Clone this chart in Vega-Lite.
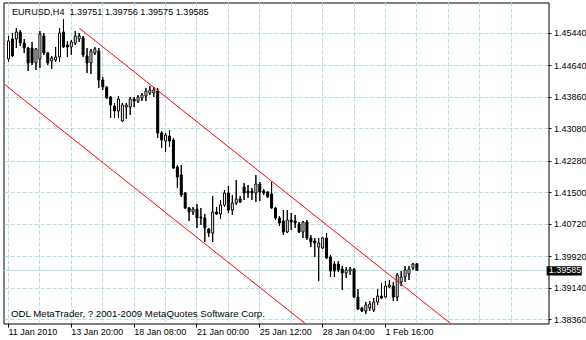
{
"$schema": "https://vega.github.io/schema/vega-lite/v6.json",
"width": 545, "height": 321,
"autosize": {"type": "none"},
"padding": {"left": 3.5, "top": 2.5, "right": 37.5, "bottom": 16.5},
"background": "white",
"config": {"view": {"stroke": "black", "strokeWidth": 1}, "font": "Liberation Sans",
"axis": {"labelOverlap": false, "labelFlush": false, "labelBound": false, "title": null, "domain": false, "translate": 0}},
"data": {"name": "candles"},
"datasets": {
"candles": [
{"t":0,"o":1.44806,"h":1.45374,"l":1.44732,"c":1.45250},
{"t":1,"o":1.45300,"h":1.45448,"l":1.44855,"c":1.44880},
{"t":2,"o":1.45300,"h":1.45571,"l":1.45077,"c":1.45473},
{"t":3,"o":1.45473,"h":1.45522,"l":1.45127,"c":1.45201},
{"t":4,"o":1.45201,"h":1.45300,"l":1.44954,"c":1.45077},
{"t":5,"o":1.45077,"h":1.45102,"l":1.44509,"c":1.44707},
{"t":6,"o":1.45077,"h":1.45226,"l":1.44658,"c":1.44707},
{"t":7,"o":1.44707,"h":1.45077,"l":1.44534,"c":1.45053},
{"t":8,"o":1.44806,"h":1.45497,"l":1.44583,"c":1.45423},
{"t":9,"o":1.45374,"h":1.45448,"l":1.44905,"c":1.44954},
{"t":10,"o":1.44954,"h":1.44979,"l":1.44658,"c":1.44707},
{"t":11,"o":1.44756,"h":1.44880,"l":1.44559,"c":1.44830},
{"t":12,"o":1.44781,"h":1.45102,"l":1.44732,"c":1.44855},
{"t":13,"o":1.44855,"h":1.45571,"l":1.44732,"c":1.45448},
{"t":14,"o":1.45473,"h":1.45794,"l":1.45077,"c":1.45102},
{"t":15,"o":1.45152,"h":1.45250,"l":1.44855,"c":1.45102},
{"t":16,"o":1.45102,"h":1.45275,"l":1.44905,"c":1.45226},
{"t":17,"o":1.45201,"h":1.45497,"l":1.45152,"c":1.45374},
{"t":18,"o":1.45300,"h":1.45448,"l":1.45226,"c":1.45374},
{"t":19,"o":1.45324,"h":1.45374,"l":1.44855,"c":1.44905},
{"t":20,"o":1.44880,"h":1.45077,"l":1.44460,"c":1.44707},
{"t":21,"o":1.44707,"h":1.45053,"l":1.44435,"c":1.45003},
{"t":22,"o":1.44954,"h":1.45102,"l":1.44905,"c":1.45053},
{"t":23,"o":1.45003,"h":1.45077,"l":1.44089,"c":1.44287},
{"t":24,"o":1.44287,"h":1.44361,"l":1.44040,"c":1.44114},
{"t":25,"o":1.44114,"h":1.44139,"l":1.43818,"c":1.43842},
{"t":26,"o":1.43867,"h":1.43892,"l":1.43348,"c":1.43670},
{"t":27,"o":1.43645,"h":1.43719,"l":1.43348,"c":1.43521},
{"t":28,"o":1.43521,"h":1.43892,"l":1.43348,"c":1.43818},
{"t":29,"o":1.43274,"h":1.43719,"l":1.43249,"c":1.43670},
{"t":30,"o":1.43620,"h":1.43719,"l":1.43324,"c":1.43670},
{"t":31,"o":1.43620,"h":1.43867,"l":1.43423,"c":1.43818},
{"t":32,"o":1.43818,"h":1.43867,"l":1.43620,"c":1.43768},
{"t":33,"o":1.43768,"h":1.43916,"l":1.43719,"c":1.43867},
{"t":34,"o":1.43842,"h":1.43966,"l":1.43768,"c":1.43916},
{"t":35,"o":1.43892,"h":1.44089,"l":1.43768,"c":1.44015},
{"t":36,"o":1.43966,"h":1.44139,"l":1.43916,"c":1.44040},
{"t":37,"o":1.43966,"h":1.44114,"l":1.43867,"c":1.44040},
{"t":38,"o":1.44015,"h":1.44089,"l":1.42854,"c":1.42978},
{"t":39,"o":1.42978,"h":1.43027,"l":1.42607,"c":1.42805},
{"t":40,"o":1.42780,"h":1.42978,"l":1.42509,"c":1.42929},
{"t":41,"o":1.42904,"h":1.43052,"l":1.42632,"c":1.42780},
{"t":42,"o":1.42805,"h":1.42854,"l":1.42089,"c":1.42114},
{"t":43,"o":1.42138,"h":1.42188,"l":1.41619,"c":1.41891},
{"t":44,"o":1.41941,"h":1.42188,"l":1.41397,"c":1.41447},
{"t":45,"o":1.41496,"h":1.41521,"l":1.41101,"c":1.41126},
{"t":46,"o":1.41126,"h":1.41151,"l":1.40804,"c":1.41027},
{"t":47,"o":1.41027,"h":1.41151,"l":1.40953,"c":1.41101},
{"t":48,"o":1.41101,"h":1.41225,"l":1.40632,"c":1.40879},
{"t":49,"o":1.40904,"h":1.41126,"l":1.40706,"c":1.40879},
{"t":50,"o":1.40879,"h":1.40978,"l":1.40286,"c":1.40632},
{"t":51,"o":1.40607,"h":1.40632,"l":1.40409,"c":1.40508},
{"t":52,"o":1.40508,"h":1.41422,"l":1.40286,"c":1.41027},
{"t":53,"o":1.41027,"h":1.41151,"l":1.40953,"c":1.40978},
{"t":54,"o":1.40978,"h":1.41323,"l":1.40854,"c":1.41200},
{"t":55,"o":1.41200,"h":1.41570,"l":1.41151,"c":1.41496},
{"t":56,"o":1.41496,"h":1.41669,"l":1.41002,"c":1.41076},
{"t":57,"o":1.41076,"h":1.41447,"l":1.40953,"c":1.41249},
{"t":58,"o":1.41249,"h":1.41817,"l":1.41200,"c":1.41348},
{"t":59,"o":1.41348,"h":1.41422,"l":1.41249,"c":1.41274},
{"t":60,"o":1.41644,"h":1.41743,"l":1.41323,"c":1.41496},
{"t":61,"o":1.41545,"h":1.41694,"l":1.41373,"c":1.41496},
{"t":62,"o":1.41545,"h":1.41619,"l":1.41323,"c":1.41496},
{"t":63,"o":1.41496,"h":1.41941,"l":1.41274,"c":1.41718},
{"t":64,"o":1.41718,"h":1.41767,"l":1.41298,"c":1.41521},
{"t":65,"o":1.41545,"h":1.41595,"l":1.41447,"c":1.41496},
{"t":66,"o":1.41521,"h":1.41545,"l":1.41373,"c":1.41397},
{"t":67,"o":1.41471,"h":1.41767,"l":1.41101,"c":1.41126},
{"t":68,"o":1.41126,"h":1.41151,"l":1.40829,"c":1.40879},
{"t":69,"o":1.40879,"h":1.40928,"l":1.40681,"c":1.40755},
{"t":70,"o":1.40804,"h":1.41076,"l":1.40459,"c":1.40533},
{"t":71,"o":1.40533,"h":1.41076,"l":1.40508,"c":1.40829},
{"t":72,"o":1.40829,"h":1.41002,"l":1.40582,"c":1.40780},
{"t":73,"o":1.40804,"h":1.40953,"l":1.40632,"c":1.40755},
{"t":74,"o":1.40730,"h":1.40780,"l":1.40508,"c":1.40533},
{"t":75,"o":1.40533,"h":1.40804,"l":1.40385,"c":1.40780},
{"t":76,"o":1.40780,"h":1.40829,"l":1.40335,"c":1.40385},
{"t":77,"o":1.40385,"h":1.40459,"l":1.40162,"c":1.40286},
{"t":78,"o":1.40311,"h":1.40385,"l":1.39915,"c":1.40261},
{"t":79,"o":1.40162,"h":1.40385,"l":1.39323,"c":1.40261},
{"t":80,"o":1.40138,"h":1.40409,"l":1.40113,"c":1.40385},
{"t":81,"o":1.40385,"h":1.40508,"l":1.39866,"c":1.39890},
{"t":82,"o":1.39915,"h":1.39964,"l":1.39421,"c":1.39569},
{"t":83,"o":1.39742,"h":1.39816,"l":1.39421,"c":1.39569},
{"t":84,"o":1.39742,"h":1.39816,"l":1.39545,"c":1.39594},
{"t":85,"o":1.39619,"h":1.39693,"l":1.39100,"c":1.39520},
{"t":86,"o":1.39520,"h":1.39668,"l":1.39397,"c":1.39594},
{"t":87,"o":1.39569,"h":1.39668,"l":1.39471,"c":1.39619},
{"t":88,"o":1.39619,"h":1.39643,"l":1.38902,"c":1.38927},
{"t":89,"o":1.38927,"h":1.39125,"l":1.38606,"c":1.38631},
{"t":90,"o":1.38655,"h":1.38680,"l":1.38557,"c":1.38581},
{"t":91,"o":1.38581,"h":1.38804,"l":1.38507,"c":1.38730},
{"t":92,"o":1.38655,"h":1.38828,"l":1.38581,"c":1.38754},
{"t":93,"o":1.38606,"h":1.38902,"l":1.38557,"c":1.38804},
{"t":94,"o":1.38804,"h":1.39125,"l":1.38730,"c":1.38951},
{"t":95,"o":1.38951,"h":1.39273,"l":1.38877,"c":1.38902},
{"t":96,"o":1.38927,"h":1.39323,"l":1.38902,"c":1.39199},
{"t":97,"o":1.39174,"h":1.39347,"l":1.39149,"c":1.39224},
{"t":98,"o":1.39199,"h":1.39298,"l":1.38828,"c":1.38927},
{"t":99,"o":1.38927,"h":1.39520,"l":1.38828,"c":1.39471},
{"t":100,"o":1.39298,"h":1.39569,"l":1.39199,"c":1.39421},
{"t":101,"o":1.39421,"h":1.39693,"l":1.39298,"c":1.39594},
{"t":102,"o":1.39495,"h":1.39693,"l":1.39347,"c":1.39619},
{"t":103,"o":1.39643,"h":1.39767,"l":1.39594,"c":1.39742},
{"t":104,"o":1.39751,"h":1.39756,"l":1.39575,"c":1.39585}
],
"channel": [
{"line":"upper","t":18.07,"p":1.45564},
{"line":"upper","t":120,"p":1.37700},
{"line":"lower","t":-1,"p":1.44178},
{"line":"lower","t":80,"p":1.37929}
],
"notes": [
{"kind":"title","t":0.875,"p":1.45893,"text":"EURUSD,H4\u00a0 1.39751 1.39756 1.39575 1.39585"},
{"kind":"copyright","t":0.625,"p":1.38426,"text":"ODL MetaTrader, ? 2001-2009 MetaQuotes Software Corp."}
],
"last": [
{"t":104,"price":1.39585,"label":"1.39585"}
]
},
"layer": [
{
"mark": {"type": "rule", "color": "black", "strokeWidth": 1, "clip": true},
"encoding": {
"x": {"field": "t", "type": "quantitative",
"scale": {"domain": [0, 136.25], "nice": false, "zero": false},
"axis": {"orient": "bottom", "values": [0,8,16,24,32,40,48,56,64,72,80,88,96,104,112,120,128], "tickCount": 100,
"title": null, "domain": false, "grid": true, "gridColor": "#B0E0E6", "gridDash": [4,2], "gridWidth": 1,
"tickSize": 4, "tickWidth": 1,
"tickColor": {"condition": {"test": "datum.value % 16 === 0 && datum.value <= 96", "value": "black"}, "value": "transparent"},
"labelExpr": "datum.value == 0 ? '11 Jan 2010' : datum.value == 16 ? '13 Jan 20:00' : datum.value == 32 ? '18 Jan 08:00' : datum.value == 48 ? '21 Jan 00:00' : datum.value == 64 ? '25 Jan 12:00' : datum.value == 80 ? '28 Jan 04:00' : datum.value == 96 ? '1 Feb 16:00' : ''",
"labelAlign": "left", "labelBaseline": "alphabetic", "labelPadding": 7.5,
"labelFont": "Liberation Sans", "labelFontSize": 9, "labelColor": "black",
"labelOverlap": false, "labelFlush": false, "labelBound": false, "translate": 0}},
"y": {"field": "l", "type": "quantitative",
"scale": {"domain": [1.38273, 1.46201], "nice": false, "zero": false},
"axis": {"orient": "right", "values": [1.4544,1.4464,1.4386,1.4308,1.4228,1.415,1.4072,1.3992,1.3914,1.3836], "tickCount": 100,
"format": ".5f", "title": null, "domain": false, "grid": true, "gridColor": "#B0E0E6", "gridDash": [4,2], "gridWidth": 1,
"tickColor": "black", "tickSize": 3, "tickWidth": 1, "labelPadding": 2.5,
"labelFont": "Liberation Sans", "labelFontSize": 9, "labelColor": "black",
"labelAlign": "left", "labelBaseline": "middle",
"labelOverlap": false, "labelFlush": false, "labelBound": false, "translate": 0}},
"y2": {"field": "h"}
}
},
{
"data": {"name": "last"},
"mark": {"type": "rule", "color": "#B0E0E6", "strokeWidth": 1},
"encoding": {"y": {"field": "price", "type": "quantitative"}}
},
{
"mark": {"type": "rule", "color": "black", "strokeWidth": 1, "clip": true},
"encoding": {
"x": {"field": "t", "type": "quantitative"},
"y": {"field": "l", "type": "quantitative"},
"y2": {"field": "h"}
}
},
{
"mark": {"type": "bar", "width": 2, "stroke": "black", "strokeWidth": 1, "clip": true},
"encoding": {
"x": {"field": "t", "type": "quantitative"},
"y": {"field": "o", "type": "quantitative"},
"y2": {"field": "c"},
"fill": {"condition": {"test": "datum.c < datum.o", "value": "black"}, "value": "white"}
}
},
{
"data": {"name": "channel"},
"mark": {"type": "line", "color": "#FF0000", "strokeWidth": 1, "clip": true},
"encoding": {
"x": {"field": "t", "type": "quantitative"},
"y": {"field": "p", "type": "quantitative"},
"detail": {"field": "line"}
}
},
{
"data": {"name": "notes"},
"transform": [{"filter": "datum.kind == 'title'"}],
"mark": {"type": "text", "align": "left", "baseline": "alphabetic", "font": "Liberation Sans", "fontSize": 9.1, "color": "black"},
"encoding": {
"x": {"field": "t", "type": "quantitative"},
"y": {"field": "p", "type": "quantitative"},
"text": {"field": "text"}
}
},
{
"data": {"name": "notes"},
"transform": [{"filter": "datum.kind == 'copyright'"}],
"mark": {"type": "text", "align": "left", "baseline": "alphabetic", "font": "Liberation Sans", "fontSize": 9.7, "color": "black"},
"encoding": {
"x": {"field": "t", "type": "quantitative"},
"y": {"field": "p", "type": "quantitative"},
"text": {"field": "text"}
}
},
{
"data": {"name": "last"},
"mark": {"type": "rect", "color": "black", "clip": false},
"encoding": {
"x": {"datum": 137.05, "type": "quantitative"},
"x2": {"datum": 146},
"y": {"datum": 1.39690, "type": "quantitative"},
"y2": {"datum": 1.39460}
}
},
{
"data": {"name": "last"},
"mark": {"type": "text", "align": "left", "baseline": "middle", "font": "Liberation Sans", "fontSize": 9, "color": "white", "clip": false, "dy": -0.5},
"encoding": {
"x": {"datum": 137.6, "type": "quantitative"},
"y": {"field": "price", "type": "quantitative"},
"text": {"field": "label"}
}
}
]
}
